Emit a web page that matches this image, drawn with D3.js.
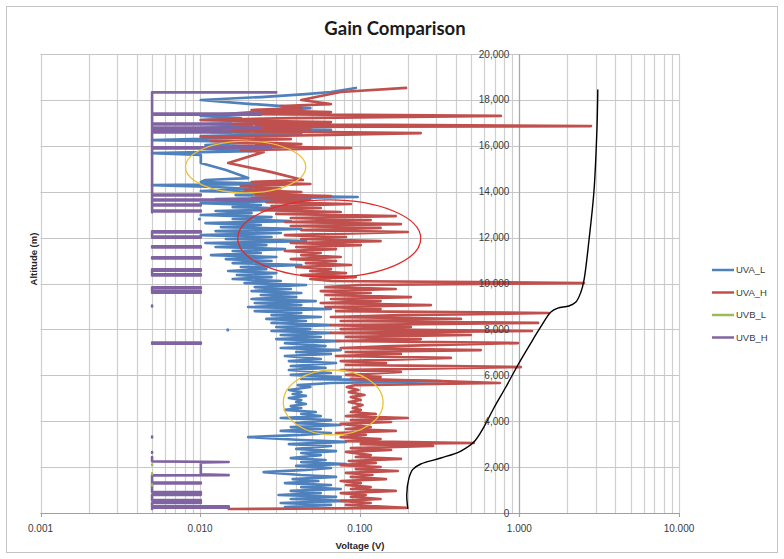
<!DOCTYPE html>
<html><head><meta charset="utf-8">
<script src="https://cdn.jsdelivr.net/npm/d3@7"></script>
<style>body{margin:0;background:#fff}svg{display:block}</style>
</head><body>
<svg id="chart" width="784" height="559"></svg>
<script>
const chartTitle = "Gain Comparison";
const xAxisTitle = "Voltage (V)";
const yAxisTitle = "Altitude (m)";
const seriesNames = ["UVA_L", "UVA_H", "UVB_L", "UVB_H"];
const seriesColors = ["#4F81BD", "#C0504D", "#9BBB59", "#8064A2"];
const xTickValues = [0.001, 0.01, 0.1, 1, 10];
const xTickLabels = ["0.001", "0.010", "0.100", "1.000", "10.000"];
const yTickValues = [0, 2000, 4000, 6000, 8000, 10000, 12000, 14000, 16000, 18000, 20000];

// [altitude (m), voltage (V)]
const uvaL = [[260,0.034],[350,0.066],[435,0.032],[525,0.082],[610,0.037],[700,0.071],[785,0.031],[870,0.057],[960,0.037],[1045,0.076],[1130,0.043],[1220,0.066],[1305,0.034],[1395,0.055],[1480,0.038],[1570,0.071],[1655,0.043],[1785,0.025],[1875,0.046],[1960,0.066],[2050,0.040],[2135,0.082],[2220,0.043],[2310,0.061],[2395,0.037],[2525,0.057],[2615,0.043],[2700,0.071],[2790,0.040],[2920,0.066],[3005,0.036],[3095,0.082],[3180,0.043],[3310,0.020],[3400,0.043],[3485,0.066],[3575,0.032],[3660,0.057],[3745,0.037],[3835,0.076],[3920,0.040],[4050,0.066],[4140,0.032],[4225,0.057],[4315,0.043],[4400,0.053],[4490,0.034],[4575,0.043],[4660,0.037],[4750,0.046],[4835,0.040],[4925,0.043],[5010,0.036],[5100,0.046],[5185,0.038],[5270,0.043],[5360,0.036],[5490,0.049],[5575,0.041],[5665,0.066],[5750,0.322],[5840,0.043],[5925,0.076],[6015,0.037],[6100,0.066],[6230,0.036],[6320,0.061],[6405,0.037],[6535,0.071],[6620,0.036],[6710,0.057],[6840,0.034],[6930,0.066],[7015,0.040],[7100,0.076],[7190,0.032],[7275,0.061],[7405,0.034],[7495,0.076],[7580,0.030],[7670,0.057],[7755,0.032],[7845,0.066],[7930,0.028],[8015,0.049],[8105,0.030],[8190,0.066],[8280,0.028],[8365,0.046],[8455,0.026],[8540,0.057],[8625,0.028],[8715,0.043],[8800,0.022],[8890,0.066],[8975,0.020],[9060,0.043],[9150,0.022],[9235,0.053],[9325,0.021],[9410,0.040],[9500,0.024],[9585,0.043],[9670,0.021],[9760,0.037],[9845,0.022],[9935,0.046],[10020,0.019],[10110,0.032],[10195,0.016],[10280,0.028],[10370,0.017],[10455,0.030],[10545,0.015],[10630,0.026],[10720,0.018],[10805,0.043],[10890,0.016],[10980,0.028],[11065,0.0145],[11155,0.030],[11240,0.0117],[11330,0.024],[11415,0.016],[11500,0.034],[11590,0.0125],[11675,0.026],[11765,0.0108],[11850,0.046],[11940,0.0145],[12025,0.028],[12110,0.0101],[12200,0.032],[12285,0.0125],[12375,0.043],[12460,0.0135],[12550,0.024],[12635,0.0108],[12720,0.037],[12810,0.016],[12895,0.028],[12985,0.0101],[13070,0.021],[13160,0.0125],[13245,0.043],[13330,0.016],[13420,0.024],[13505,0.0101],[13595,0.032],[13680,0.0125],[13770,0.097],[13855,0.0167],[13940,0.030],[14030,0.0101],[14115,0.021],[14205,0.0125],[14290,0.005],[14335,0.032],[14420,0.0101],[14510,0.0108],[14595,0.020],[14945,0.0145],[15250,0.0101],[15600,0.0101],[15685,0.005],[15770,0.021],[15860,0.0101],[15945,0.032],[16035,0.0108],[16165,0.024],[16250,0.005],[16340,0.016],[16425,0.0101],[16515,0.043],[16600,0.0117],[16690,0.066],[16775,0.0101],[16860,0.021],[16950,0.0117],[17035,0.037],[17125,0.0101],[17210,0.018],[17300,0.0101],[17645,0.049],[17820,0.021],[17995,0.0101],[18125,0.024],[18255,0.046],[18345,0.066],[18520,0.0945]];

const uvaH = [[175,0.0151],[220,0.197],[350,0.082],[435,0.117],[525,0.076],[610,0.135],[700,0.088],[785,0.109],[870,0.076],[960,0.168],[1045,0.088],[1130,0.117],[1220,0.082],[1305,0.1015],[1395,0.076],[1480,0.146],[1570,0.088],[1655,0.120],[1745,0.082],[1830,0.173],[1915,0.0945],[2005,0.135],[2090,0.076],[2180,0.126],[2265,0.0855],[2355,0.181],[2440,0.0945],[2525,0.117],[2660,0.082],[2745,0.157],[2830,0.088],[2920,0.288],[3005,0.1015],[3050,0.518],[3135,0.082],[3225,0.135],[3310,0.076],[3400,0.109],[3485,0.071],[3575,0.168],[3660,0.082],[3745,0.117],[3880,0.076],[3965,0.157],[4050,0.088],[4140,0.200],[4225,0.082],[4315,0.126],[4400,0.088],[4490,0.1015],[4575,0.0905],[4705,0.104],[4835,0.0855],[4925,0.1015],[5055,0.088],[5140,0.107],[5270,0.0855],[5360,0.098],[5490,0.083],[5575,0.0945],[5665,0.754],[5750,0.322],[5840,0.088],[5925,0.135],[6015,0.082],[6145,0.181],[6230,0.076],[6360,1.02],[6450,0.082],[6535,0.146],[6620,0.076],[6755,0.372],[6840,0.071],[6930,0.181],[7015,0.082],[7100,0.573],[7190,0.076],[7275,0.157],[7405,0.979],[7495,0.071],[7580,0.241],[7670,0.082],[7755,0.496],[7845,0.066],[7930,1.20],[8015,0.076],[8105,0.209],[8190,0.066],[8280,1.31],[8365,0.076],[8455,0.430],[8540,0.066],[8625,0.181],[8715,1.52],[8800,0.071],[8890,0.135],[8975,0.061],[9060,0.279],[9150,0.057],[9235,0.135],[9325,0.066],[9410,0.209],[9500,0.061],[9585,0.117],[9670,0.057],[9760,0.168],[9845,0.061],[9935,0.1015],[10020,2.54],[10110,0.066],[10195,0.049],[10280,0.0945],[10370,0.043],[10455,0.082],[10545,0.049],[10630,0.066],[10720,0.040],[10805,0.088],[10890,0.046],[10980,0.071],[11065,0.037],[11155,0.076],[11240,0.043],[11330,0.057],[11415,0.034],[11500,0.071],[11590,0.040],[11675,0.1015],[11765,0.037],[11850,0.135],[11940,0.043],[12025,0.082],[12110,0.034],[12245,0.200],[12330,0.043],[12420,0.135],[12505,0.037],[12590,0.181],[12680,0.034],[12765,0.117],[12855,0.037],[12940,0.168],[13030,0.030],[13115,0.076],[13200,0.024],[13290,0.057],[13375,0.028],[13465,0.088],[13550,0.026],[13640,0.049],[13725,0.021],[13810,0.066],[13900,0.022],[13985,0.043],[14075,0.019],[14160,0.032],[14245,0.018],[14335,0.049],[14420,0.021],[14510,0.044],[14855,0.028],[15250,0.015],[15730,0.025],[15815,0.018],[15905,0.088],[15990,0.016],[16075,0.043],[16210,0.0117],[16295,0.037],[16385,0.0101],[16470,0.066],[16555,0.241],[16645,0.0117],[16730,0.049],[16820,0.018],[16860,2.81],[16950,0.0135],[17035,0.066],[17125,0.0101],[17210,0.037],[17300,0.765],[17385,0.0156],[17470,0.066],[17560,0.021],[17645,0.043],[17735,0.032],[17820,0.066],[17995,0.043],[18170,0.057],[18345,0.076],[18520,0.195]];

const uvbL = [[1200,0.005],[1240,0.005],null,[1690,0.005],[1730,0.005],null,[2080,0.005],[2120,0.005]];

const uvbH = [[175,0.005],[230,0.005],[230,0.0151],[290,0.0151],[290,0.005],[440,0.005],[440,0.0101],[560,0.0101],[560,0.005],[790,0.005],[790,0.0101],[910,0.0101],[910,0.005],[1290,0.005],[1290,0.0101],[1330,0.0101],[1330,0.005],[1640,0.005],[1650,0.0151],[1690,0.0101],[2190,0.0101],[2220,0.0151],[2250,0.005],[2440,0.005],null,[2620,0.005],[2660,0.005],null,[3290,0.005],[3330,0.005],null,[7380,0.005],[7380,0.0101],[7430,0.0101],[7430,0.005],null,[9000,0.005],[9040,0.005],null,[9600,0.005],[9600,0.0101],[9660,0.0101],[9660,0.005],[9780,0.005],[9780,0.0101],[9830,0.0101],[9830,0.005],null,[10350,0.005],[10350,0.0101],[10400,0.0101],[10400,0.005],[10560,0.005],[10560,0.0101],[10620,0.0101],[10620,0.005],null,[11090,0.005],[11090,0.0101],[11140,0.0101],[11140,0.005],null,[11570,0.005],[11570,0.0101],[11620,0.0101],[11620,0.005],null,[12000,0.005],[12000,0.0101],[12050,0.0101],[12050,0.005],[12220,0.005],[12220,0.0101],[12270,0.0101],[12270,0.005],null,[13100,0.005],[13140,0.005],[13140,0.0101],[13180,0.0101],[13180,0.005],[13400,0.005],[13400,0.0101],[13440,0.0101],[13440,0.005],[13620,0.005],[13620,0.024],[13660,0.024],[13660,0.005],[13840,0.005],[13840,0.0101],[13880,0.0101],[13880,0.005],[15880,0.005],[15880,0.0277],[15930,0.0277],[15930,0.005],[16580,0.005],[16580,0.0156],[16620,0.0156],[16620,0.005],[16700,0.005],[16700,0.0135],[16740,0.0135],[16740,0.005],[16760,0.005],[16760,0.024],[16800,0.024],[16800,0.005],[16930,0.005],[16930,0.0156],[16970,0.0156],[16970,0.005],[17360,0.005],[17360,0.024],[17400,0.024],[17400,0.005],[18300,0.005],[18330,0.005],[18330,0.030]];

const sensorCurve = [[200,0.200],[800,0.197],[1500,0.203],[1900,0.215],[2135,0.241],[2395,0.322],[2700,0.430],[3090,0.518],[3745,0.599],[4575,0.692],[5490,0.823],[6450,0.979],[7405,1.18],[8105,1.36],[8760,1.575],[8930,1.74],[9020,2.04],[9195,2.26],[9630,2.43],[10150,2.54],[11895,2.73],[13985,2.93],[16690,3.06],[18430,3.10]];

const singleDots = [[7975,0.0149,0],[12810,0.0099,0]];

// annotation ellipses: [vMin, vMax, altMin, altMax, colour]
const annotationEllipses = [
  [0.0081, 0.0459, 13950, 16200, "#EBC13A"],
  [0.0172, 0.241, 10280, 13640, "#E02A2A"],
  [0.0332, 0.140, 3400, 6230, "#EBC13A"]
];

const svg = d3.select("#chart");
svg.append("rect").attr("x", 6.5).attr("y", 6.5).attr("width", 771).attr("height", 546)
  .attr("fill", "#fff").attr("stroke", "#c4c4c4").attr("stroke-width", 1);

const x = d3.scaleLog().domain([0.001, 10]).range([40.5, 679]);
const y = d3.scaleLinear().domain([0, 20000]).range([513, 54]);

const minorX = [];
for (let e = -3; e < 1; e++) for (let m = 1; m < 10; m++) minorX.push(m * Math.pow(10, e));
minorX.push(10);
const grid = svg.append("g");
grid.selectAll("line.vx").data(minorX).join("line")
  .attr("x1", d => Math.round(x(d)) + 0.5).attr("x2", d => Math.round(x(d)) + 0.5)
  .attr("y1", y(20000)).attr("y2", y(0))
  .attr("stroke", "#cfcfcf").attr("stroke-width", 1.2);
grid.selectAll("line.hy").data(yTickValues).join("line")
  .attr("x1", x(0.001)).attr("x2", x(10))
  .attr("y1", d => Math.round(y(d)) + 0.5).attr("y2", d => Math.round(y(d)) + 0.5)
  .attr("stroke", "#c6c6c6").attr("stroke-width", 1.2);
svg.append("line").attr("x1", x(0.001)).attr("x2", x(10)).attr("y1", Math.round(y(0)) + 0.5).attr("y2", Math.round(y(0)) + 0.5)
  .attr("stroke", "#a0a0a0").attr("stroke-width", 1.2);
svg.append("line").attr("x1", Math.round(x(1)) + 0.5).attr("x2", Math.round(x(1)) + 0.5).attr("y1", y(20000)).attr("y2", y(0) + 4)
  .attr("stroke", "#a8a8a8").attr("stroke-width", 1.2);
svg.selectAll("line.xt").data(xTickValues).join("line")
  .attr("x1", d => Math.round(x(d)) + 0.5).attr("x2", d => Math.round(x(d)) + 0.5)
  .attr("y1", y(0)).attr("y2", y(0) + 4).attr("stroke", "#a0a0a0");

const line = d3.line().defined(d => d !== null)
  .x(d => x(d[1])).y(d => y(d[0]));

const plot = svg.append("g").attr("fill", "none").attr("stroke-linejoin", "round").attr("stroke-linecap", "round");
plot.append("path").attr("d", line(uvaL)).attr("stroke", seriesColors[0]).attr("stroke-width", 2.7);
plot.append("path").attr("d", line(uvaH)).attr("stroke", seriesColors[1]).attr("stroke-width", 2.7);
plot.append("path").attr("d", line(uvbH)).attr("stroke", seriesColors[3]).attr("stroke-width", 2.6);
plot.append("path").attr("d", line(uvbL)).attr("stroke", seriesColors[2]).attr("stroke-width", 2.4);
svg.selectAll("circle.dot").data(singleDots).join("circle")
  .attr("cx", d => x(d[1])).attr("cy", d => y(d[0])).attr("r", 1.6)
  .attr("fill", d => seriesColors[d[2]]);

const curveLine = d3.line().curve(d3.curveCatmullRom.alpha(0.5))
  .x(d => x(d[1])).y(d => y(d[0]));
plot.append("path").attr("d", curveLine(sensorCurve)).attr("stroke", "#000").attr("stroke-width", 1.4);

annotationEllipses.forEach(e => {
  const x0 = x(e[0]), x1 = x(e[1]), y0 = y(e[3]), y1 = y(e[2]);
  svg.append("ellipse").attr("cx", (x0 + x1) / 2).attr("cy", (y0 + y1) / 2)
    .attr("rx", (x1 - x0) / 2).attr("ry", (y1 - y0) / 2)
    .attr("fill", "none").attr("stroke", e[4]).attr("stroke-width", 1.3);
});

const font = "'Liberation Sans', Arial, sans-serif";
svg.selectAll("text.yl").data(yTickValues).join("text")
  .attr("x", x(1) - 10).attr("y", d => y(d)).attr("dy", "0.35em")
  .attr("text-anchor", "end").attr("font-family", font).attr("font-size", 10)
  .attr("fill", "#3a3a3a").text(d => d3.format(",")(d));
svg.selectAll("text.xl").data(xTickValues).join("text")
  .attr("x", d => x(d)).attr("y", 532)
  .attr("text-anchor", "middle").attr("font-family", font).attr("font-size", 10)
  .attr("fill", "#3a3a3a").text((d, i) => xTickLabels[i]);

svg.append("text").attr("x", 360).attr("y", 549).attr("text-anchor", "middle")
  .attr("font-family", font).attr("font-size", 9.5).attr("font-weight", "bold").attr("fill", "#262626").text(xAxisTitle);
svg.append("text").attr("transform", "translate(37,259) rotate(-90)").attr("text-anchor", "middle")
  .attr("font-family", font).attr("font-size", 9.5).attr("font-weight", "bold").attr("fill", "#262626").text(yAxisTitle);
svg.append("text").attr("x", 395).attr("y", 35).attr("text-anchor", "middle")
  .attr("font-family", "Lato, 'Liberation Sans', sans-serif").attr("font-size", 18.5).attr("font-weight", "bold").attr("fill", "#1a1a1a").text(chartTitle);

const legend = svg.append("g");
seriesNames.forEach((n, i) => {
  const ly = 270 + i * 22.5;
  legend.append("line").attr("x1", 712).attr("x2", 734).attr("y1", ly).attr("y2", ly)
    .attr("stroke", seriesColors[i]).attr("stroke-width", 2.5);
  legend.append("text").attr("x", 736).attr("y", ly).attr("dy", "0.35em")
    .attr("font-family", font).attr("font-size", 9.5).attr("fill", "#3a3a3a").text(n);
});
</script>
</body></html>
